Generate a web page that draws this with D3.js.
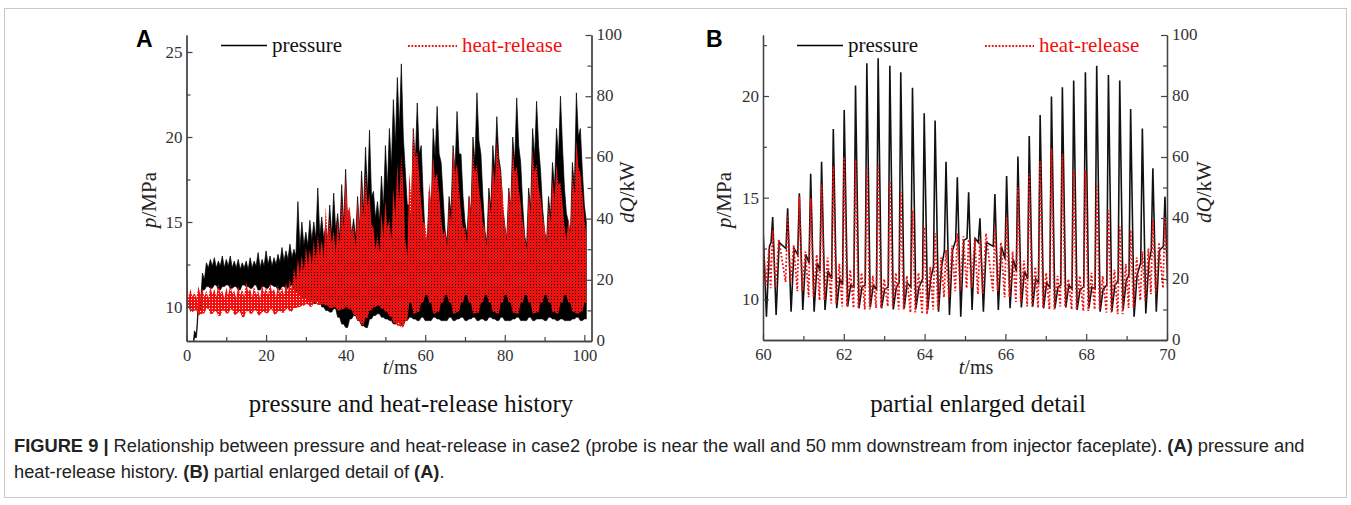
<!DOCTYPE html>
<html>
<head>
<meta charset="utf-8">
<script src="https://cdn.jsdelivr.net/npm/d3@7"></script>
<style>
body { margin: 0; background: #fff; }
svg { display: block; }
</style>
</head>
<body>
<div id="fig"></div>
<script>
// ---------- data ----------

// panel A, one value per ms (t = 0..100):
// Hi = tip of the spikes, Core = top of the solid part between spikes, Lo = bottom
var tA = d3.range(0, 101);
var pHiA = [7.4, 7.6, 8.6, 10.4, 12.0, 12.6, 12.8, 12.9, 12.7, 13.0,
    12.8, 13.0, 12.7, 12.8, 12.6, 12.7, 12.9, 12.7, 13.2, 12.8,
    13.3, 13.0, 12.9, 13.1, 13.5, 13.3, 13.7, 13.4, 16.2, 15.0,
    14.4, 15.1, 15.0, 17.0, 15.3, 14.8, 16.0, 16.7, 15.5, 17.2,
    18.1, 15.6, 15.2, 16.5, 18.0, 19.4, 20.4, 16.8, 16.2, 17.7,
    19.5, 20.5, 22.2, 23.5, 24.3, 18.0, 16.0, 20.5, 22.0, 19.5,
    14.0, 16.8, 20.5, 21.8, 18.5, 14.5, 16.5, 19.5, 21.5, 19.0,
    15.0, 16.5, 20.0, 22.6, 19.0, 14.5, 17.0, 19.5, 21.2, 18.0,
    14.8, 17.0, 20.0, 22.3, 18.5, 14.2, 17.0, 20.5, 22.1, 18.0,
    14.5, 16.5, 18.5, 20.5, 22.4, 17.0, 15.0, 18.5, 22.6, 20.5,
    16.0];
var pCoreA = [7.2, 7.5, 8.4, 10.1, 11.6, 12.3, 12.4, 12.3, 12.4, 12.3,
    12.4, 12.3, 12.3, 12.2, 12.3, 12.2, 12.3, 12.4, 12.3, 12.4,
    12.5, 12.4, 12.5, 12.6, 12.7, 12.8, 12.9, 13.0, 13.4, 13.6,
    13.6, 13.9, 14.0, 14.2, 14.0, 13.8, 14.2, 14.5, 14.0, 14.8,
    15.0, 14.2, 14.0, 14.6, 15.5, 16.5, 16.5, 15.2, 15.0, 15.8,
    17.0, 18.2, 19.5, 20.5, 20.0, 16.0, 15.0, 18.5, 19.0, 16.5,
    13.6, 15.5, 18.8, 19.0, 16.5, 13.8, 15.5, 18.0, 19.0, 16.5,
    14.2, 15.5, 18.5, 19.8, 16.5, 13.8, 15.8, 18.0, 18.8, 15.8,
    14.0, 15.8, 18.5, 19.5, 16.0, 13.6, 15.8, 18.8, 19.5, 15.8,
    13.8, 15.3, 17.0, 18.8, 19.5, 15.5, 14.2, 17.0, 20.0, 18.0,
    15.0];
var pLoA = [7.0, 7.3, 8.2, 9.8, 11.0, 11.2, 11.1, 11.3, 11.0, 11.2,
    11.3, 11.1, 11.2, 11.0, 11.3, 11.2, 11.1, 11.3, 11.0, 11.2,
    11.1, 11.3, 11.2, 11.0, 11.2, 11.1, 11.3, 11.0, 10.8, 10.6,
    10.5, 10.3, 10.2, 10.4, 10.0, 9.8, 9.7, 9.9, 9.4, 9.0,
    8.8, 9.3, 9.5, 9.2, 8.9, 8.8, 9.3, 9.5, 9.6, 9.4,
    9.3, 9.2, 9.0, 9.1, 8.9, 9.2, 9.4, 9.3, 9.2, 9.4,
    9.2, 9.2, 9.4, 9.3, 9.2, 9.2, 9.4, 9.2, 9.3, 9.4,
    9.2, 9.3, 9.4, 9.2, 9.3, 9.2, 9.4, 9.3, 9.2, 9.4,
    9.2, 9.2, 9.3, 9.4, 9.2, 9.2, 9.4, 9.2, 9.3, 9.3,
    9.2, 9.4, 9.3, 9.2, 9.3, 9.2, 9.2, 9.3, 9.4, 9.2,
    9.3];
var qHiA = [25.6, 17, 16, 18, 17, 16.5, 18, 17, 19, 16.5,
    17.5, 18.5, 16.5, 18, 17, 19.5, 17, 18, 16.5, 18.5,
    17.5, 19, 17, 18.5, 17.5, 19, 20.5, 24, 27, 28,
    31, 30, 33, 35, 33, 44, 40, 36, 40, 47,
    53.6, 44, 38, 46, 52, 55.8, 48, 37, 35, 42,
    46, 40, 50, 58, 61.3, 33, 55, 70, 62, 45,
    38, 52, 60.2, 55, 40, 36, 45, 63.4, 58, 42,
    37, 48, 62.9, 58, 45, 36, 48, 58, 66.2, 55,
    38, 50, 62.9, 57, 45, 35, 48, 62.9, 58, 47,
    37, 45, 53, 58, 52, 38, 40, 55, 65.6, 55,
    40];
var qCoreA = [14, 14.5, 14, 15, 14.5, 14, 15, 14.5, 15.5, 14,
    15, 15.5, 14, 15, 14.5, 16, 14.5, 15, 14, 15.5,
    15, 16, 14.5, 15.5, 15, 16, 17, 20, 22, 23,
    25, 25, 27, 28, 27, 34, 32, 29, 32, 37,
    42, 35, 31, 37, 41, 44, 38, 30, 29, 34,
    37, 33, 40, 46, 50, 28, 47, 60, 54, 39,
    33, 45, 53, 48, 35, 31, 39, 55, 50, 37,
    32, 42, 55, 50, 39, 31, 42, 51, 58, 48,
    33, 44, 55, 50, 39, 30, 42, 55, 50, 41,
    32, 39, 46, 51, 45, 33, 35, 48, 57, 48,
    35];
var qLoA = [11, 9.5, 10, 8.5, 9, 10.5, 8.8, 9.6, 8.2, 9.9,
    9, 10.2, 8.6, 9.4, 7.8, 9.7, 8.9, 10, 8.4, 9.5,
    9.1, 10.3, 8.7, 9.8, 9.2, 10.4, 9.6, 10.8, 11, 11.5,
    12, 11.2, 12.4, 11.8, 12, 11.5, 10.8, 11, 10, 10.4,
    11, 10.2, 8.5, 6.5, 5.2, 7.5, 10, 11, 11.5, 10.5,
    9.5, 8, 6, 5, 4.5, 6.5, 12.5, 9, 9.5, 12.5,
    15, 12.5, 9, 9.5, 12.5, 15, 12.5, 9, 9.5, 12.5,
    15, 12.5, 9, 9.2, 12.5, 15, 12.5, 9.5, 9, 12.5,
    15, 12.5, 9.2, 9, 12.5, 15, 12.5, 9, 9.4, 12.5,
    15, 12.5, 9.5, 9, 12.5, 15, 12.5, 9.5, 9, 9.5,
    12.5];

// panel B: one entry per pressure cycle between 60 and 70 ms
var peakT_B = [60.00, 60.24, 60.61, 60.90, 61.18, 61.45, 61.74, 62.01, 62.29, 62.57,
    62.85, 63.14, 63.41, 63.70, 63.99, 64.26, 64.53, 64.81, 65.09, 65.37,
    65.74, 66.03, 66.31, 66.59, 66.86, 67.14, 67.41, 67.69, 67.98, 68.26,
    68.55, 68.83, 69.10, 69.39, 69.65, 69.95];
var peakP_B = [13.56, 14.05, 14.48, 15.22, 16.17, 16.77, 18.38, 19.31, 20.51, 21.61,
    21.86, 21.49, 21.17, 20.41, 19.15, 18.79, 16.77, 16.00, 15.27, 13.99,
    15.18, 16.07, 17.02, 18.03, 19.07, 19.97, 20.43, 20.76, 21.17, 21.49,
    21.03, 20.76, 19.36, 18.40, 16.45, 15.05];
var troughP_B = [9.15, 9.23, 9.39, 9.48, 9.39, 9.48, 9.56, 9.64, 9.56, 9.60,
    9.56, 9.50, 9.56, 9.56, 9.48, 9.39, 9.23, 9.15, 9.48, 9.39,
    9.48, 9.56, 9.60, 9.64, 9.56, 9.56, 9.60, 9.48, 9.56, 9.39,
    9.39, 9.50, 9.15, 9.31, 9.39, 9.50];
var shoulderP_B = [12.6, 12.8, 12.5, 12.2, 11.8, 11.4, 11.0, 10.7, 10.6, 10.7,
    10.5, 10.6, 10.8, 10.6, 11.0, 11.6, 12.4, 12.9, 13.0, 12.8,
    12.6, 12.0, 11.4, 11.0, 10.8, 10.6, 10.7, 10.5, 10.6, 10.5,
    10.7, 10.9, 11.2, 11.8, 12.4, 12.6];
var peakQ_B = [33, 36, 41, 47, 46.5, 51, 57, 60, 59, 56.5,
    57.5, 52, 48.5, 42.5, 37, 35, 29.5, 35, 33, 33,
    37, 40.5, 50, 54.5, 58.5, 62.8, 61, 56, 55.7, 51,
    42.6, 37.2, 36, 29, 39.3, 40.4];
var lowQ_B = [18, 17, 19, 16, 14, 13, 12, 11, 10.5, 10,
    10.5, 11, 10, 9, 8.5, 10, 14, 16, 17, 15,
    16, 14, 12.5, 11, 10.5, 10, 11, 10, 9.5, 10,
    9, 8.5, 10.5, 13, 15, 17];
var midQ_B = [30, 33, 31, 29, 28, 27, 25, 23, 22, 21,
    20, 22, 21, 22, 24, 27, 31, 34, 33, 35,
    32, 29, 26, 24, 22, 21, 20, 21, 22, 21,
    23, 25, 27, 30, 32, 30];

// axis ticks
var tTicksA = [0, 20, 40, 60, 80, 100], tMinorA = [10, 30, 50, 70, 90];
var tTicksB = [60, 62, 64, 66, 68, 70], tMinorB = [61, 63, 65, 67, 69];
var pTicksA = [10, 15, 20, 25], pTicksB = [10, 15, 20], pMinor = [12.5, 17.5, 22.5];
var qTicks = [0, 20, 40, 60, 80, 100], qMinor = [10, 30, 50, 70, 90];

// ---------- drawing ----------
var serif = "'Liberation Serif', 'Times New Roman', serif";
var sans = "'Liberation Sans', Arial, sans-serif";
var red = "#f01010";

var svg = d3.select("#fig").append("svg")
    .attr("width", 1351)
    .attr("height", 505);

// dotted red texture for the dense heat-release band of panel A
var pat = svg.append("defs").append("pattern")
    .attr("id", "reddots")
    .attr("patternUnits", "userSpaceOnUse")
    .attr("width", 3).attr("height", 3);
pat.append("rect").attr("x", 0).attr("y", 0).attr("width", 2).attr("height", 3).attr("fill", red);
pat.append("rect").attr("x", 2).attr("y", 0).attr("width", 1).attr("height", 2).attr("fill", red);

svg.append("rect")
    .attr("x", 4.5).attr("y", 8.5)
    .attr("width", 1342).attr("height", 489)
    .attr("fill", "none")
    .attr("stroke", "#c8c8c8");

function makePanel(cfg) {
    var x = d3.scaleLinear().domain(cfg.xDom).range([cfg.left, cfg.right]);
    var yL = d3.scaleLinear().domain(cfg.yDom).range([cfg.bottom, cfg.top]);
    var yR = d3.scaleLinear().domain([0, 100]).range([cfg.bottom, cfg.top]);
    var g = svg.append("g");

    g.append("clipPath").attr("id", cfg.id + "clip")
        .append("rect")
        .attr("x", cfg.left).attr("y", cfg.top)
        .attr("width", cfg.right - cfg.left).attr("height", cfg.bottom - cfg.top);

    var plot = g.append("g").attr("clip-path", "url(#" + cfg.id + "clip)");

    // bottom axis, ticks pointing inward
    g.append("g").attr("class", "xax").attr("transform", "translate(0," + cfg.bottom + ")")
        .call(d3.axisBottom(x).tickValues(cfg.xTicks).tickSize(-6).tickSizeOuter(0).tickPadding(8));
    g.append("g").attr("transform", "translate(0," + cfg.bottom + ")")
        .call(d3.axisBottom(x).tickValues(cfg.xMinor).tickSize(-4).tickSizeOuter(0).tickFormat(""));
    // left axis
    g.append("g").attr("transform", "translate(" + cfg.left + ",0)")
        .call(d3.axisLeft(yL).tickValues(cfg.pTicks).tickSize(-6).tickSizeOuter(0).tickPadding(4));
    g.append("g").attr("transform", "translate(" + cfg.left + ",0)")
        .call(d3.axisLeft(yL).tickValues(pMinor).tickSize(-4).tickSizeOuter(0).tickFormat(""));
    // right axis
    g.append("g").attr("class", "rax").attr("transform", "translate(" + cfg.right + ",0)")
        .call(d3.axisRight(yR).tickValues(qTicks).tickSize(-6).tickSizeOuter(0).tickPadding(5));
    g.append("g").attr("transform", "translate(" + cfg.right + ",0)")
        .call(d3.axisRight(yR).tickValues(qMinor).tickSize(-4).tickSizeOuter(0).tickFormat(""));

    g.selectAll(".domain").attr("stroke", "#444").attr("stroke-width", 1.3);
    g.selectAll(".tick line").attr("stroke", "#444").attr("stroke-width", 1.2);
    g.selectAll(".tick text")
        .attr("font-family", serif)
        .attr("font-size", "17px")
        .attr("fill", "#333");
    g.selectAll(".rax .tick text").attr("dy", "0.26em");
    g.selectAll(".xax .tick text").attr("font-size", "16.5px");

    // axis titles
    var xt = g.append("text")
        .attr("x", cfg.xTitleX).attr("y", 374)
        .attr("text-anchor", "middle")
        .attr("font-family", serif).attr("font-size", "20px").attr("fill", "#222");
    xt.append("tspan").attr("font-style", "italic").text("t");
    xt.append("tspan").text("/ms");

    var lt = g.append("text")
        .attr("transform", "translate(" + cfg.pTitleX + ",200) rotate(-90)")
        .attr("text-anchor", "middle")
        .attr("font-family", serif).attr("font-size", "21px").attr("fill", "#222");
    lt.append("tspan").attr("font-style", "italic").text("p");
    lt.append("tspan").text("/MPa");

    var rt = g.append("text")
        .attr("transform", "translate(" + cfg.qTitleX + ",192) rotate(-90)")
        .attr("text-anchor", "middle")
        .attr("font-family", serif).attr("font-size", "21px").attr("fill", "#222");
    rt.append("tspan").attr("font-style", "italic").text("dQ");
    rt.append("tspan").text("/kW");

    // panel letter
    g.append("text")
        .attr("x", cfg.letterX).attr("y", 47)
        .attr("font-family", sans).attr("font-weight", "bold")
        .attr("font-size", "23px").attr("fill", "#000")
        .text(cfg.letter);

    // legend
    g.append("line")
        .attr("x1", cfg.legP).attr("x2", cfg.legP + 46)
        .attr("y1", 45.5).attr("y2", 45.5)
        .attr("stroke", "#000").attr("stroke-width", 1.3);
    g.append("text")
        .attr("x", cfg.legP + 51).attr("y", 52)
        .attr("font-family", serif).attr("font-size", "21px").attr("fill", "#111")
        .text("pressure");
    g.append("line")
        .attr("x1", cfg.legQ).attr("x2", cfg.legQ + 49)
        .attr("y1", 46).attr("y2", 46)
        .attr("stroke", red).attr("stroke-width", 1.8)
        .attr("stroke-dasharray", "1.8,1.6");
    g.append("text")
        .attr("x", cfg.legQ + 54).attr("y", 52)
        .attr("font-family", serif).attr("font-size", "21px").attr("fill", red)
        .text("heat-release");

    // caption under the plot
    g.append("text")
        .attr("x", cfg.capX).attr("y", 412)
        .attr("text-anchor", "middle")
        .attr("font-family", serif).attr("font-size", "24.8px").attr("fill", "#111")
        .text(cfg.caption);

    return {x: x, yL: yL, yR: yR, plot: plot};
}

var A = makePanel({
    id: "a", letter: "A", letterX: 136,
    xDom: [0, 101.8], yDom: [8, 26],
    left: 186.5, right: 591.5, top: 35, bottom: 341,
    xTicks: tTicksA, xMinor: tMinorA, pTicks: pTicksA,
    xTitleX: 400, pTitleX: 156, qTitleX: 634,
    legP: 221, legQ: 408,
    capX: 411, caption: "pressure and heat-release history"
});

var B = makePanel({
    id: "b", letter: "B", letterX: 706,
    xDom: [60, 70], yDom: [8, 23],
    left: 763, right: 1167, top: 35, bottom: 340,
    xTicks: tTicksB, xMinor: tMinorB, pTicks: pTicksB,
    xTitleX: 976, pTitleX: 731, qTitleX: 1211,
    legP: 797, legQ: 985,
    capX: 978, caption: "partial enlarged detail"
});

// panel A traces: the oscillation is far too dense to resolve, so fill the band
// with spike tips at each ms and the solid core half a ms later
var pA = [], qA = [];
tA.forEach(function(t, i) {
    pA.push({t: t, hi: pHiA[i], lo: pLoA[i]}, {t: t + 0.5, hi: pCoreA[i], lo: pLoA[i]});
    qA.push({t: t, hi: qHiA[i], lo: qLoA[i]}, {t: t + 0.5, hi: qCoreA[i], lo: qLoA[i]});
});

A.plot.append("path")
    .datum(pA)
    .attr("fill", "#000")
    .attr("stroke", "#000")
    .attr("stroke-width", 0.7)
    .attr("d", d3.area()
        .x(function(d) { return A.x(d.t); })
        .y0(function(d) { return A.yL(d.lo); })
        .y1(function(d) { return A.yL(d.hi); }));
A.plot.append("path")
    .datum(qA)
    .attr("fill", "url(#reddots)")
    .attr("d", d3.area()
        .x(function(d) { return A.x(d.t); })
        .y0(function(d) { return A.yR(d.lo); })
        .y1(function(d) { return A.yR(d.hi); }));

// panel B traces: one spike per cycle
var pB = [], qB = [];
peakT_B.forEach(function(t, i) {
    pB.push({t: t - 0.04, v: shoulderP_B[i]}, {t: t, v: peakP_B[i]},
        {t: t + 0.085, v: troughP_B[i]}, {t: t + 0.16, v: shoulderP_B[i]});
    qB.push({t: t - 0.05, v: lowQ_B[i]}, {t: t, v: peakQ_B[i]},
        {t: t + 0.07, v: lowQ_B[i]}, {t: t + 0.15, v: midQ_B[i]});
});

B.plot.append("path")
    .datum(pB)
    .attr("fill", "none")
    .attr("stroke", "#111")
    .attr("stroke-width", 1.6)
    .attr("d", d3.line().x(function(d) { return B.x(d.t); }).y(function(d) { return B.yL(d.v); }));
B.plot.append("path")
    .datum(qB)
    .attr("fill", "none")
    .attr("stroke", red)
    .attr("stroke-width", 1.8)
    .attr("stroke-dasharray", "1.8,2")
    .attr("d", d3.line().x(function(d) { return B.x(d.t); }).y(function(d) { return B.yR(d.v); }));

// figure caption
var cap1 = svg.append("text")
    .attr("x", 14).attr("y", 452)
    .attr("font-family", sans).attr("font-size", "18.3px").attr("fill", "#222");
cap1.append("tspan").attr("font-weight", "bold").text("FIGURE 9 |");
cap1.append("tspan").text(" Relationship between pressure and heat-release in case2 (probe is near the wall and 50 mm downstream from injector faceplate). ");
cap1.append("tspan").attr("font-weight", "bold").text("(A)");
cap1.append("tspan").text(" pressure and");

var cap2 = svg.append("text")
    .attr("x", 14).attr("y", 478)
    .attr("font-family", sans).attr("font-size", "18.3px").attr("fill", "#222");
cap2.append("tspan").text("heat-release history. ");
cap2.append("tspan").attr("font-weight", "bold").text("(B)");
cap2.append("tspan").text(" partial enlarged detail of ");
cap2.append("tspan").attr("font-weight", "bold").text("(A)");
cap2.append("tspan").text(".");
</script>
</body>
</html>
